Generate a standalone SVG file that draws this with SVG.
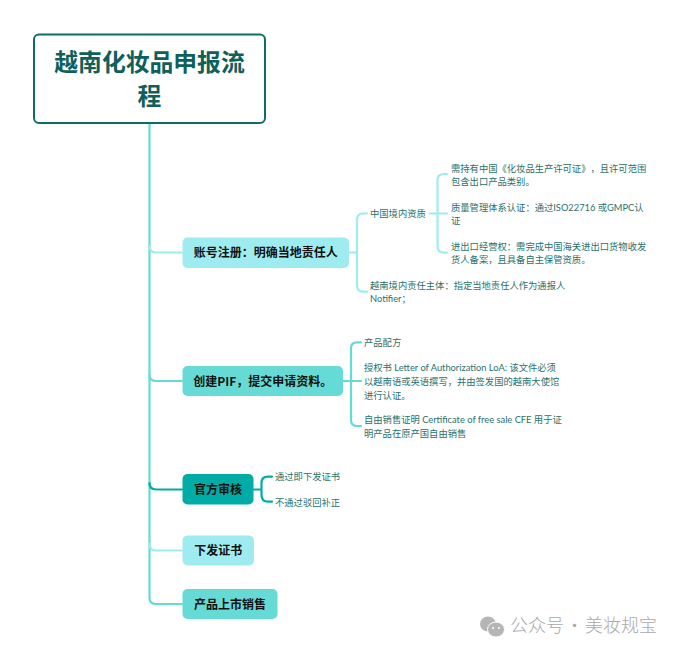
<svg xmlns="http://www.w3.org/2000/svg" width="682" height="653" viewBox="0 0 682 653">
<style>
text{font-family:"Lato","Noto Sans CJK SC",sans-serif;text-spacing-trim:space-all}
.n{font-family:"Noto Sans CJK SC",sans-serif;font-size:12px;font-weight:700;fill:#111;text-anchor:middle}
.t{font-size:9.3px;fill:#2a716c}
.c{fill:none;stroke-width:2.2;stroke-linecap:round}
.a{stroke:#9fecf0}.b{stroke:#66dbd6}.d{stroke:#01aca6}
.h{font-family:"Noto Sans CJK SC",sans-serif;font-size:23.800px;font-weight:700;fill:#0f5f5a;text-anchor:middle}
</style>
<rect width="682" height="653" fill="#fff"/>
<g id="connectors">
<path class="c b" d="M149.500 123V598Q149.500 604 156 604H182"/>
<path class="c a" d="M149.500 246Q149.500 252.500 156 252.500H182"/>
<path class="c b" d="M149.500 375Q149.500 381 156 381H182"/>
<path class="c d" d="M149.500 483Q149.500 489.500 156 489.500H182"/>
<path class="c a" d="M149.500 544Q149.500 550.500 156 550.500H182"/>
<path class="c a" d="M349 252.500H357M367 213.500H363Q357 213.500 357 220V285Q357 291.700 363 291.700H367"/>
<path class="c a" d="M430 213.500H447M447 174H444Q437.500 174 437.500 180V246Q437.500 252.700 444 252.700H447"/>
<path class="c b" d="M343 381H361M361 342.300H357Q351 342.300 351 348V420Q351 426 357 426H361"/>
<path class="c d" d="M253.500 489.500H261.500M272 476.700H268Q261.500 476.700 261.500 483V495Q261.500 501.700 268 501.700H272"/>
</g>
<g id="root">
<rect x="34" y="34.500" width="231" height="88.500" rx="5" fill="#fff" stroke="#0f6b66" stroke-width="2"/>
<text class="h" x="149.500" y="70.500">越南化妆品申报流</text>
<text class="h" x="149.500" y="105">程</text>
</g>
<g id="node1">
<rect x="182.500" y="237.500" width="166.500" height="30.500" rx="5" fill="#9fecf0"/>
<text class="n" x="265.700" y="257">账号注册：明确当地责任人</text>
</g>
<g id="node1-1"><text class="t" x="370" y="217">中国境内资质</text></g>
<g id="node1-1-1"><text class="t" x="451" y="171.500">需持有中国《化妆品生产许可证》，且许可范围</text><text class="t" x="451" y="185">包含出口产品类别。</text></g>
<g id="node1-1-2"><text class="t" x="451" y="210.500">质量管理体系认证：通过ISO22716 或GMPC认</text><text class="t" x="451" y="224">证</text></g>
<g id="node1-1-3"><text class="t" x="451" y="249.500">进出口经营权：需完成中国海关进出口货物收发</text><text class="t" x="451" y="263">货人备案，且具备自主保管资质。</text></g>
<g id="node1-2"><text class="t" x="370" y="288.500">越南境内责任主体：指定当地责任人作为通报人</text><text class="t" x="370" y="302">Notifier；</text></g>
<g id="node2">
<rect x="182.500" y="366" width="160.500" height="30" rx="5" fill="#66dbd6"/>
<text class="n" x="262.700" y="385.500">创建PIF，提交申请资料。</text>
</g>
<g id="node2-1"><text class="t" x="364" y="346">产品配方</text></g>
<g id="node2-2"><text class="t" x="364" y="371">授权书 Letter of Authorization LoA: 该文件必须</text><text class="t" x="364" y="385">以越南语或英语撰写，并由签发国的越南大使馆</text><text class="t" x="364" y="398.500">进行认证。</text></g>
<g id="node2-3"><text class="t" x="364" y="423">自由销售证明 Certificate of free sale CFE 用于证</text><text class="t" x="364" y="436.500">明产品在原产国自由销售</text></g>
<g id="node3">
<rect x="182.500" y="474" width="71" height="30.500" rx="5" fill="#01aca6"/>
<text class="n" x="218" y="493.500">官方审核</text>
</g>
<g id="node3-1"><text class="t" x="275" y="480">通过即下发证书</text></g>
<g id="node3-2"><text class="t" x="275" y="505.500">不通过驳回补正</text></g>
<g id="node4">
<rect x="182.500" y="535.500" width="71.500" height="30" rx="5" fill="#9fecf0"/>
<text class="n" x="218.200" y="555">下发证书</text>
</g>
<g id="node5">
<rect x="182.500" y="589" width="95" height="30" rx="5" fill="#66dbd6"/>
<text class="n" x="230" y="608.500">产品上市销售</text>
</g>
<g id="watermark">
<ellipse cx="488" cy="624" rx="8" ry="7.500" fill="#b5b5b5"/>
<ellipse cx="496" cy="629.500" rx="8.500" ry="7.500" fill="#b5b5b5" stroke="#fff"/>
<circle cx="493" cy="628" r="1" fill="#fff"/><circle cx="499" cy="628" r="1" fill="#fff"/>
<text x="510" y="632" font-size="18" word-spacing="-2.500" fill="#a9a9a9" style="font-family:'Noto Sans CJK SC',sans-serif;font-weight:300">公众号 · 美妆规宝</text>
</g>
</svg>
